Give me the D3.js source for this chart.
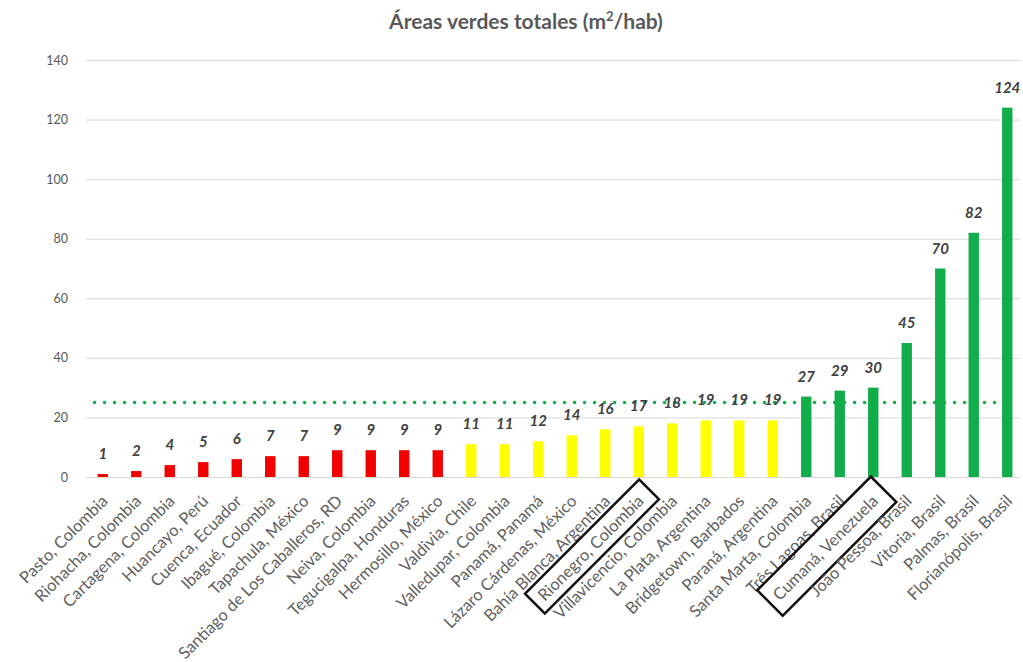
<!DOCTYPE html>
<html>
<head>
<meta charset="utf-8">
<script src="https://cdn.jsdelivr.net/npm/d3@7"></script>
<style>
  html, body { margin: 0; padding: 0; background: #ffffff; }
  svg { display: block; font-family: Lato, "Open Sans", sans-serif; }
</style>
</head>
<body>
<svg id="chart" width="1023" height="662"></svg>
<script>
// Green area per inhabitant (m²/hab) by city
const cities = [
  "Pasto, Colombia", "Riohacha, Colombia", "Cartagena, Colombia", "Huancayo, Perú",
  "Cuenca, Ecuador", "Ibagué, Colombia", "Tapachula, México", "Santiago de Los Caballeros, RD",
  "Neiva, Colombia", "Tegucigalpa, Honduras", "Hermosillo, México", "Valdivia, Chile",
  "Valledupar, Colombia", "Panamá, Panamá", "Lázaro Cárdenas, México", "Bahía Blanca, Argentina",
  "Rionegro, Colombia", "Villavicencio, Colombia", "La Plata, Argentina", "Bridgetown, Barbados",
  "Paraná, Argentina", "Santa Marta, Colombia", "Três Lagoas, Brasil", "Cumaná, Venezuela",
  "João Pessoa, Brasil", "Vitoria, Brasil", "Palmas, Brasil", "Florianópolis, Brasil"
];
const values = [1, 2, 4, 5, 6, 7, 7, 9, 9, 9, 9, 11, 11, 12, 14, 16, 17, 18, 19, 19, 19, 27, 29, 30, 45, 70, 82, 124];
const groups = ["low", "low", "low", "low", "low", "low", "low", "low", "low", "low", "low",
  "mid", "mid", "mid", "mid", "mid", "mid", "mid", "mid", "mid", "mid",
  "high", "high", "high", "high", "high", "high", "high"];
const yTicks = [0, 20, 40, 60, 80, 100, 120, 140];
const reference = 25;
const highlighted = ["Rionegro, Colombia", "Cumaná, Venezuela"];
const boxPad = { "Rionegro, Colombia": 4, "Cumaná, Venezuela": 8 };

const colors = { low: "#f20000", mid: "#ffff00", high: "#12ad4b" };
const data = cities.map((c, i) => ({ city: c, value: values[i], group: groups[i] }));

const svg = d3.select("#chart");
const plot = { left: 86, right: 1024, top: 60, bottom: 477 };

const x = d3.scaleBand().domain(cities).range([plot.left, plot.right]).paddingInner(0.69).paddingOuter(0.345);
const y = d3.scaleLinear().domain([0, 140]).range([plot.bottom, plot.top]);

// Title
const title = svg.append("text")
  .attr("x", 526).attr("y", 29)
  .attr("text-anchor", "middle")
  .attr("font-size", 21).attr("font-weight", 700).attr("fill", "#595959");
title.append("tspan").text("Áreas verdes totales (m");
title.append("tspan").attr("dy", -8).attr("font-size", 13).text("2");
title.append("tspan").attr("dy", 8).text("/hab)");

// Horizontal gridlines and value axis
const yAxis = d3.axisLeft(y).tickValues(yTicks).tickSize(-(1020 - plot.left)).tickPadding(18);
const gy = svg.append("g").attr("transform", `translate(${plot.left},0)`).call(yAxis);
gy.select(".domain").remove();
gy.selectAll(".tick line").attr("stroke", "#d9d9d9").attr("stroke-width", 1);
gy.selectAll(".tick text").attr("fill", "#595959").attr("font-size", 12.5)
  .attr("font-family", "Lato, 'Open Sans', sans-serif");

// Bars
svg.append("g").selectAll("rect").data(data).join("rect")
  .attr("x", d => x(d.city))
  .attr("width", x.bandwidth())
  .attr("y", d => y(d.value))
  .attr("height", d => y(0) - y(d.value))
  .attr("fill", d => colors[d.group]);

// Reference level (dotted)
svg.append("line")
  .attr("x1", x(cities[0]) - 3).attr("x2", x(cities[cities.length - 1]) - 2)
  .attr("y1", y(reference)).attr("y2", y(reference))
  .attr("stroke", "#12ad4b").attr("stroke-width", 3.6)
  .attr("stroke-linecap", "round").attr("stroke-dasharray", "0 10");

// Value labels
svg.append("g").selectAll("text").data(data).join("text")
  .attr("x", d => x(d.city) + x.bandwidth() / 2)
  .attr("y", d => y(d.value) - 15)
  .attr("text-anchor", "middle")
  .attr("font-size", 15).attr("font-weight", 700).attr("font-style", "italic")
  .attr("fill", "#404040")
  .text(d => d.value);

// Category labels, rotated
const labels = svg.append("g").selectAll("g").data(data).join("g")
  .attr("transform", d => `translate(${x(d.city) + x.bandwidth() / 2 + 2},${plot.bottom + 21}) rotate(-45)`);
labels.append("text")
  .attr("text-anchor", "end")
  .attr("dy", "0.35em")
  .attr("font-size", 16.5).attr("fill", "#606060")
  .text(d => d.city);

// Boxes around highlighted cities
labels.filter(d => highlighted.includes(d.city)).each(function (d) {
  const g = d3.select(this);
  const b = g.select("text").node().getBBox();
  const p = boxPad[d.city];
  g.append("rect")
    .attr("x", b.x - 8).attr("y", b.y - p)
    .attr("width", b.width + 20).attr("height", b.height + 2 * p)
    .attr("fill", "none").attr("stroke", "#111").attr("stroke-width", 2.5);
});
</script>
</body>
</html>
